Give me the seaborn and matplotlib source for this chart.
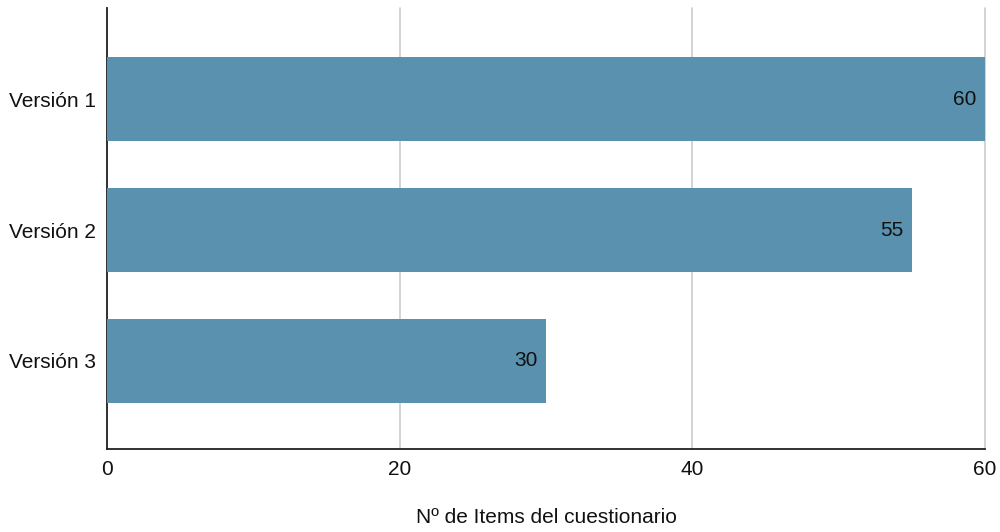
import matplotlib
matplotlib.use("Agg")
import matplotlib.pyplot as plt
import seaborn as sns
import pandas as pd

# Data
versiones = ["Versión 1", "Versión 2", "Versión 3"]
items = [60, 55, 30]
x_ticks = [0, 20, 40, 60]

df = pd.DataFrame({"version": versiones, "items": items})

sns.set_theme(style="white")
plt.rcParams["font.family"] = ["Liberation Sans", "DejaVu Sans"]

fig = plt.figure(figsize=(10, 5.32), dpi=100)
ax = fig.add_axes([0.107, 0.156, 0.878, 0.829])

sns.barplot(data=df, x="items", y="version", color="#5A91AE", saturation=1,
            width=0.64, linewidth=0, ax=ax, zorder=3)

# Value labels inside bar ends
for i, v in enumerate(items):
    ax.annotate(str(v), xy=(v, i), xytext=(-6, 0), textcoords="offset points",
                ha="right", va="center", fontsize=15, color="#111111", zorder=4)

ax.set_xlim(0, 60)
ax.set_ylim(2.672, -0.695)
ax.set_xticks(x_ticks)
ax.grid(axis="x", color="#CCCCCC", linewidth=1.2, zorder=0)
for gl in ax.get_xgridlines():
    gl.set_clip_on(False)
ax.set_axisbelow(True)

for s in ["top", "right"]:
    ax.spines[s].set_visible(False)
ax.spines["left"].set_color("#222222")
ax.spines["bottom"].set_color("#222222")
ax.spines["left"].set_linewidth(1.3)
ax.spines["bottom"].set_linewidth(1.3)

ax.tick_params(axis="both", length=0, labelsize=15, colors="#111111", pad=8)
ax.set_ylabel("")
ax.set_xlabel("Nº de Items del cuestionario", fontsize=15, color="#111111", labelpad=21)

fig.savefig("out.png", dpi=100)
